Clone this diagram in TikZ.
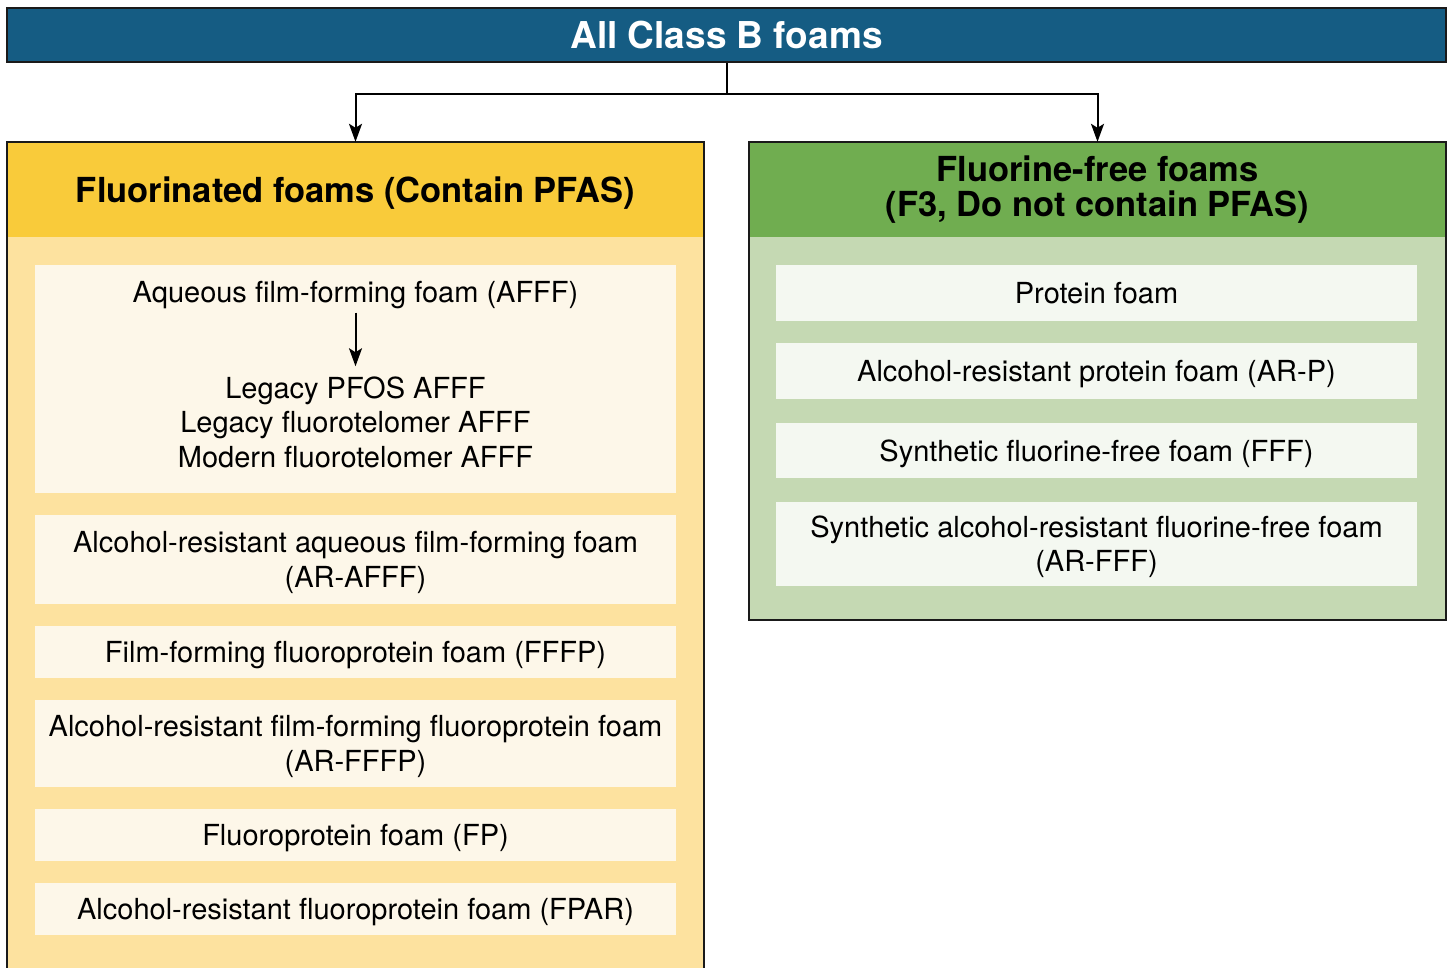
\documentclass[tikz,border=0pt]{standalone}
\usepackage{fontspec}
\setmainfont{TeX Gyre Heros}
\usetikzlibrary{arrows.meta}
\definecolor{bannerblue}{HTML}{155C83}
\definecolor{bordc}{HTML}{1A1A1A}
\definecolor{lhead}{HTML}{F9CB3A}
\definecolor{lbody}{HTML}{FDE29F}
\definecolor{lcream}{HTML}{FDF7E9}
\definecolor{rhead}{HTML}{70AD50}
\definecolor{rbody}{HTML}{C5D9B3}
\definecolor{rwhite}{HTML}{F4F8F1}
\newcommand\fitemfont{\fontsize{29}{34.5}\selectfont}
\newcommand\fhdrfont{\fontsize{34.5}{35}\selectfont\bfseries}
\newcommand\ftitlefont{\fontsize{37}{40}\selectfont\bfseries}
\newcommand\tallstrut{\rule{0pt}{27pt}}
\begin{document}
\begin{tikzpicture}[x=1pt,y=-1pt,
  banner/.style={fill=bannerblue,draw=bordc,line width=2.5pt,minimum width=1439pt,minimum height=54pt,inner sep=0pt,text=white,font=\ftitlefont,text height=27pt,text depth=0pt},
  hdr/.style={minimum width=697pt,minimum height=95pt,inner sep=0pt,align=center,font=\fhdrfont},
  hdrone/.style={text height=32pt,text depth=7pt},
  boxborder/.style={draw=bordc,line width=2.5pt},
  conn/.style={draw=black,line width=2pt,-{Stealth[length=18pt,width=13pt,inset=4pt]}},
  item/.style={minimum width=641pt,minimum height=#1,inner sep=0pt,align=center,font=\fitemfont},
  one/.style={text height=27pt,text depth=6pt},
  litem/.style={item=#1,fill=lcream},
  ritem/.style={item=#1,fill=rwhite},
  txt/.style={inner sep=0pt,align=center,font=\fitemfont}
]
\useasboundingbox (0,0) rectangle (1448,967);
% title banner
\node[banner] (top) at (726.5,35) {All Class B foams};
% left panel
\fill[lbody] (7,237) rectangle (704,980);
\node[hdr,hdrone,fill=lhead] (Lh) at (355.5,189.5) {Fluorinated foams (Contain PFAS)};
\draw[boxborder] (7,980) -- (7,142) -- (704,142) -- (704,980);
% right panel
\fill[rbody] (749,237) rectangle (1446,620);
\node[hdr,fill=rhead] (Rh) at (1097.5,189.5) {Fluorine-free foams\\(F3, Do not contain PFAS)};
\draw[boxborder] (749,142) rectangle (1446,620);
% connectors from title
\draw[conn] (top.south) -- ++(0,31) -| (Lh.north);
\draw[conn] (top.south) -- ++(0,31) -| (Rh.north);
% left items
\node[litem=228pt] (afffbox) at (355.5,379) {};
\node[txt,one] (afff) at (355.5,292) {Aqueous film-forming foam (AFFF)};
\node[txt] (legacy) at (355.5,422) {Legacy PFOS AFFF\\Legacy fluorotelomer AFFF\\Modern fluorotelomer AFFF};
\draw[conn,shorten <=4pt] (afff.south) -- ([yshift=10pt]legacy.north);
\node[litem=89pt] (arafff) at (355.5,559.5) {\tallstrut Alcohol-resistant aqueous film-forming foam\\(AR-AFFF)};
\node[litem=52pt,one] (fffp) at (355.5,652) {Film-forming fluoroprotein foam (FFFP)};
\node[litem=87pt] (arfffp) at (355.5,743.5) {\tallstrut Alcohol-resistant film-forming fluoroprotein foam\\(AR-FFFP)};
\node[litem=52pt,one] (fp) at (355.5,835) {Fluoroprotein foam (FP)};
\node[litem=52pt,one] (fpar) at (355.5,909) {Alcohol-resistant fluoroprotein foam (FPAR)};
% right items
\node[ritem=56pt,one] (prot) at (1096.5,293) {Protein foam};
\node[ritem=56pt,one] (arp) at (1096.5,371) {Alcohol-resistant protein foam (AR-P)};
\node[ritem=55pt,one] (fff) at (1096.5,450.5) {Synthetic fluorine-free foam (FFF)};
\node[ritem=84pt] (arfff) at (1096.5,544) {\tallstrut Synthetic alcohol-resistant fluorine-free foam\\(AR-FFF)};
\end{tikzpicture}
\end{document}
